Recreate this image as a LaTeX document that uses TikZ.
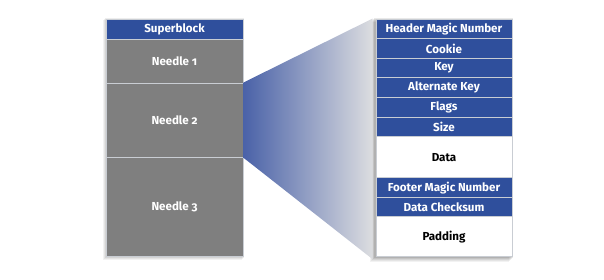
\documentclass[tikz,border=0pt]{standalone}
\usepackage{fontspec}
\setmainfont{Fira Sans}[Numbers=OldStyle]
\definecolor{hblue}{HTML}{2F4F9C}
\definecolor{ngray}{HTML}{7F7F7F}
\definecolor{lineg}{HTML}{C9CDD3}
\definecolor{fblue}{HTML}{4A62A8}
\definecolor{fgray}{HTML}{DCDDE0}
\begin{document}
\begin{tikzpicture}[x=1pt,y=1pt,
  cell/.style={draw=lineg, line width=0.9pt, inner sep=0pt, font=\bfseries\fontsize{11.6}{13}\selectfont},
  bluecell/.style={cell, fill=hblue, text=white},
  graycell/.style={cell, fill=ngray, text=white},
  whitecell/.style={cell, fill=white, text=black}]
\useasboundingbox (0,0) rectangle (604,279);
% right stack shadow
\foreach \o/\a in {6/0.05,5/0.06,4/0.07,3/0.08,2/0.09}{
  \fill[black,opacity=\a] (376-\o,279-256.7-\o+1) rectangle (512-\o+3,279-19-\o+3);
}
% left stack shadow
\foreach \o/\a in {3/0.05,2/0.06,1/0.07}{
  \fill[black,opacity=\a] (106-\o,279-256.7-\o) rectangle (243-\o+2,279-19-\o+2);
}
% left stack
\newcommand{\leftcell}[5]{\node[#1, minimum width=137pt, minimum height=#4pt-#3pt] (#2) at (174.5,279-#3/2-#4/2) {#5};}
\leftcell{bluecell}{sb}{19}{39.3}{Superblock}
\leftcell{graycell}{n1}{39.3}{83}{Needle 1}
\leftcell{graycell}{n2}{83}{157.3}{Needle 2}
\leftcell{graycell}{n3}{157.3}{256.7}{Needle 3}
% right stack
\newcommand{\rightcell}[5]{\node[#1, minimum width=136pt, minimum height=#4pt-#3pt] (#2) at (444,279-#3/2-#4/2) {#5};}
\rightcell{bluecell}{hmn}{19}{38.6}{Header Magic Number}
\rightcell{bluecell}{ck}{38.6}{58.2}{Cookie}
\rightcell{bluecell}{key}{58.2}{77.8}{Key}
\rightcell{bluecell}{ak}{77.8}{97.4}{Alternate Key}
\rightcell{bluecell}{fl}{97.4}{117}{Flags}
\rightcell{bluecell}{sz}{117}{136.7}{Size}
\rightcell{whitecell}{data}{136.7}{177.7}{Data}
\rightcell{bluecell}{fmn}{177.7}{197.5}{Footer Magic Number}
\rightcell{bluecell}{dc}{197.5}{216.7}{Data Checksum}
\rightcell{whitecell}{pad}{216.7}{256.7}{Padding}
% funnel
\shade[left color=fblue, right color=fgray]
  (n2.north east) -- ([xshift=-3pt]hmn.north west) -- ([xshift=-3pt,yshift=-2pt]pad.south west) -- (n2.south east) -- cycle;
\end{tikzpicture}
\end{document}
